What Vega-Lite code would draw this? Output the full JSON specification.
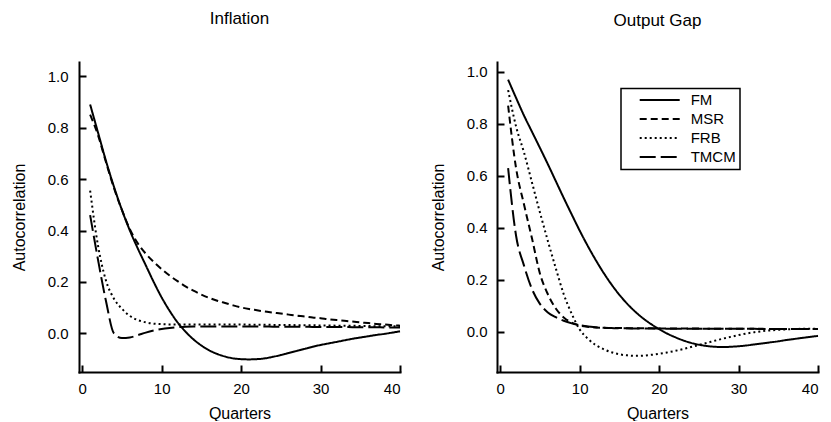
{
  "$schema": "https://vega.github.io/schema/vega-lite/v6.json",
  "background": "white",
  "padding": {"left": 11, "top": 10, "right": 5, "bottom": 0},
  "config": {
    "view": {"stroke": null},
    "font": "Liberation Sans",
    "axis": {
      "grid": false,
      "domainColor": "black",
      "domainWidth": 2,
      "domainCap": "square",
      "tickColor": "black",
      "tickWidth": 2,
      "tickSize": -7,
      "labelFont": "Liberation Sans",
      "labelFontSize": 15,
      "labelColor": "black",
      "titleFont": "Liberation Sans",
      "titleFontSize": 16,
      "titleFontWeight": "normal",
      "titleColor": "black"
    },
    "legend": {"strokeWidth": 1.5},
    "title": {
      "font": "Liberation Sans",
      "fontSize": 17,
      "fontWeight": "normal",
      "color": "black",
      "anchor": "middle",
      "frame": "group",
      "baseline": "alphabetic"
    }
  },
  "data": {
    "values": [
      {"panel": "Inflation", "lag": 1, "FM": 0.89, "MSR": 0.85, "FRB": 0.555, "TMCM": 0.46},
      {"panel": "Inflation", "lag": 2, "FM": 0.78, "MSR": 0.77, "FRB": 0.34, "TMCM": 0.285},
      {"panel": "Inflation", "lag": 3, "FM": 0.67, "MSR": 0.665, "FRB": 0.205, "TMCM": 0.125},
      {"panel": "Inflation", "lag": 4, "FM": 0.57, "MSR": 0.565, "FRB": 0.135, "TMCM": 0.0},
      {"panel": "Inflation", "lag": 5, "FM": 0.48, "MSR": 0.48, "FRB": 0.096, "TMCM": -0.018},
      {"panel": "Inflation", "lag": 6, "FM": 0.40, "MSR": 0.405, "FRB": 0.068, "TMCM": -0.016},
      {"panel": "Inflation", "lag": 7, "FM": 0.33, "MSR": 0.35, "FRB": 0.052, "TMCM": -0.007},
      {"panel": "Inflation", "lag": 8, "FM": 0.265, "MSR": 0.31, "FRB": 0.043, "TMCM": 0.003},
      {"panel": "Inflation", "lag": 9, "FM": 0.2, "MSR": 0.278, "FRB": 0.038, "TMCM": 0.011},
      {"panel": "Inflation", "lag": 10, "FM": 0.14, "MSR": 0.25, "FRB": 0.036, "TMCM": 0.017},
      {"panel": "Inflation", "lag": 11, "FM": 0.088, "MSR": 0.225, "FRB": 0.035, "TMCM": 0.021},
      {"panel": "Inflation", "lag": 12, "FM": 0.043, "MSR": 0.203, "FRB": 0.035, "TMCM": 0.024},
      {"panel": "Inflation", "lag": 13, "FM": 0.007, "MSR": 0.183, "FRB": 0.035, "TMCM": 0.026},
      {"panel": "Inflation", "lag": 14, "FM": -0.023, "MSR": 0.166, "FRB": 0.035, "TMCM": 0.027},
      {"panel": "Inflation", "lag": 15, "FM": -0.047, "MSR": 0.151, "FRB": 0.035, "TMCM": 0.027},
      {"panel": "Inflation", "lag": 16, "FM": -0.066, "MSR": 0.138, "FRB": 0.035, "TMCM": 0.027},
      {"panel": "Inflation", "lag": 17, "FM": -0.08, "MSR": 0.127, "FRB": 0.035, "TMCM": 0.027},
      {"panel": "Inflation", "lag": 18, "FM": -0.09, "MSR": 0.118, "FRB": 0.035, "TMCM": 0.027},
      {"panel": "Inflation", "lag": 19, "FM": -0.097, "MSR": 0.109, "FRB": 0.035, "TMCM": 0.027},
      {"panel": "Inflation", "lag": 20, "FM": -0.1, "MSR": 0.101, "FRB": 0.035, "TMCM": 0.027},
      {"panel": "Inflation", "lag": 21, "FM": -0.101, "MSR": 0.095, "FRB": 0.034, "TMCM": 0.027},
      {"panel": "Inflation", "lag": 22, "FM": -0.1, "MSR": 0.09, "FRB": 0.034, "TMCM": 0.027},
      {"panel": "Inflation", "lag": 23, "FM": -0.097, "MSR": 0.085, "FRB": 0.034, "TMCM": 0.027},
      {"panel": "Inflation", "lag": 24, "FM": -0.091, "MSR": 0.081, "FRB": 0.033, "TMCM": 0.026},
      {"panel": "Inflation", "lag": 25, "FM": -0.084, "MSR": 0.077, "FRB": 0.033, "TMCM": 0.026},
      {"panel": "Inflation", "lag": 26, "FM": -0.076, "MSR": 0.073, "FRB": 0.033, "TMCM": 0.026},
      {"panel": "Inflation", "lag": 27, "FM": -0.068, "MSR": 0.069, "FRB": 0.032, "TMCM": 0.026},
      {"panel": "Inflation", "lag": 28, "FM": -0.06, "MSR": 0.066, "FRB": 0.032, "TMCM": 0.026},
      {"panel": "Inflation", "lag": 29, "FM": -0.052, "MSR": 0.062, "FRB": 0.032, "TMCM": 0.025},
      {"panel": "Inflation", "lag": 30, "FM": -0.045, "MSR": 0.059, "FRB": 0.031, "TMCM": 0.025},
      {"panel": "Inflation", "lag": 31, "FM": -0.039, "MSR": 0.055, "FRB": 0.031, "TMCM": 0.025},
      {"panel": "Inflation", "lag": 32, "FM": -0.033, "MSR": 0.052, "FRB": 0.03, "TMCM": 0.025},
      {"panel": "Inflation", "lag": 33, "FM": -0.027, "MSR": 0.049, "FRB": 0.03, "TMCM": 0.025},
      {"panel": "Inflation", "lag": 34, "FM": -0.021, "MSR": 0.046, "FRB": 0.03, "TMCM": 0.024},
      {"panel": "Inflation", "lag": 35, "FM": -0.016, "MSR": 0.043, "FRB": 0.029, "TMCM": 0.024},
      {"panel": "Inflation", "lag": 36, "FM": -0.011, "MSR": 0.04, "FRB": 0.029, "TMCM": 0.024},
      {"panel": "Inflation", "lag": 37, "FM": -0.006, "MSR": 0.037, "FRB": 0.028, "TMCM": 0.024},
      {"panel": "Inflation", "lag": 38, "FM": -0.002, "MSR": 0.035, "FRB": 0.028, "TMCM": 0.023},
      {"panel": "Inflation", "lag": 39, "FM": 0.003, "MSR": 0.032, "FRB": 0.028, "TMCM": 0.023},
      {"panel": "Inflation", "lag": 40, "FM": 0.008, "MSR": 0.03, "FRB": 0.027, "TMCM": 0.023},
      {"panel": "Output Gap", "lag": 1, "FM": 0.97, "MSR": 0.87, "FRB": 0.93, "TMCM": 0.63},
      {"panel": "Output Gap", "lag": 2, "FM": 0.9, "MSR": 0.63, "FRB": 0.79, "TMCM": 0.37},
      {"panel": "Output Gap", "lag": 3, "FM": 0.832, "MSR": 0.49, "FRB": 0.69, "TMCM": 0.255},
      {"panel": "Output Gap", "lag": 4, "FM": 0.77, "MSR": 0.36, "FRB": 0.575, "TMCM": 0.165},
      {"panel": "Output Gap", "lag": 5, "FM": 0.708, "MSR": 0.225, "FRB": 0.46, "TMCM": 0.108},
      {"panel": "Output Gap", "lag": 6, "FM": 0.645, "MSR": 0.145, "FRB": 0.35, "TMCM": 0.075},
      {"panel": "Output Gap", "lag": 7, "FM": 0.58, "MSR": 0.09, "FRB": 0.245, "TMCM": 0.057},
      {"panel": "Output Gap", "lag": 8, "FM": 0.515, "MSR": 0.056, "FRB": 0.145, "TMCM": 0.043},
      {"panel": "Output Gap", "lag": 9, "FM": 0.452, "MSR": 0.036, "FRB": 0.07, "TMCM": 0.033},
      {"panel": "Output Gap", "lag": 10, "FM": 0.39, "MSR": 0.025, "FRB": 0.01, "TMCM": 0.026},
      {"panel": "Output Gap", "lag": 11, "FM": 0.332, "MSR": 0.02, "FRB": -0.025, "TMCM": 0.021},
      {"panel": "Output Gap", "lag": 12, "FM": 0.278, "MSR": 0.017, "FRB": -0.05, "TMCM": 0.018},
      {"panel": "Output Gap", "lag": 13, "FM": 0.228, "MSR": 0.016, "FRB": -0.066, "TMCM": 0.016},
      {"panel": "Output Gap", "lag": 14, "FM": 0.183, "MSR": 0.015, "FRB": -0.078, "TMCM": 0.015},
      {"panel": "Output Gap", "lag": 15, "FM": 0.143, "MSR": 0.015, "FRB": -0.086, "TMCM": 0.014},
      {"panel": "Output Gap", "lag": 16, "FM": 0.108, "MSR": 0.014, "FRB": -0.09, "TMCM": 0.014},
      {"panel": "Output Gap", "lag": 17, "FM": 0.078, "MSR": 0.014, "FRB": -0.092, "TMCM": 0.013},
      {"panel": "Output Gap", "lag": 18, "FM": 0.052, "MSR": 0.014, "FRB": -0.091, "TMCM": 0.013},
      {"panel": "Output Gap", "lag": 19, "FM": 0.03, "MSR": 0.014, "FRB": -0.088, "TMCM": 0.013},
      {"panel": "Output Gap", "lag": 20, "FM": 0.011, "MSR": 0.013, "FRB": -0.084, "TMCM": 0.013},
      {"panel": "Output Gap", "lag": 21, "FM": -0.006, "MSR": 0.013, "FRB": -0.079, "TMCM": 0.012},
      {"panel": "Output Gap", "lag": 22, "FM": -0.02, "MSR": 0.013, "FRB": -0.073, "TMCM": 0.012},
      {"panel": "Output Gap", "lag": 23, "FM": -0.032, "MSR": 0.013, "FRB": -0.066, "TMCM": 0.012},
      {"panel": "Output Gap", "lag": 24, "FM": -0.042, "MSR": 0.013, "FRB": -0.058, "TMCM": 0.012},
      {"panel": "Output Gap", "lag": 25, "FM": -0.049, "MSR": 0.013, "FRB": -0.05, "TMCM": 0.012},
      {"panel": "Output Gap", "lag": 26, "FM": -0.054, "MSR": 0.012, "FRB": -0.042, "TMCM": 0.012},
      {"panel": "Output Gap", "lag": 27, "FM": -0.057, "MSR": 0.012, "FRB": -0.034, "TMCM": 0.012},
      {"panel": "Output Gap", "lag": 28, "FM": -0.058, "MSR": 0.012, "FRB": -0.026, "TMCM": 0.012},
      {"panel": "Output Gap", "lag": 29, "FM": -0.057, "MSR": 0.012, "FRB": -0.019, "TMCM": 0.012},
      {"panel": "Output Gap", "lag": 30, "FM": -0.055, "MSR": 0.012, "FRB": -0.012, "TMCM": 0.012},
      {"panel": "Output Gap", "lag": 31, "FM": -0.052, "MSR": 0.012, "FRB": -0.006, "TMCM": 0.012},
      {"panel": "Output Gap", "lag": 32, "FM": -0.048, "MSR": 0.012, "FRB": -0.001, "TMCM": 0.012},
      {"panel": "Output Gap", "lag": 33, "FM": -0.044, "MSR": 0.012, "FRB": 0.003, "TMCM": 0.011},
      {"panel": "Output Gap", "lag": 34, "FM": -0.04, "MSR": 0.011, "FRB": 0.006, "TMCM": 0.011},
      {"panel": "Output Gap", "lag": 35, "FM": -0.036, "MSR": 0.011, "FRB": 0.008, "TMCM": 0.011},
      {"panel": "Output Gap", "lag": 36, "FM": -0.031, "MSR": 0.011, "FRB": 0.01, "TMCM": 0.011},
      {"panel": "Output Gap", "lag": 37, "FM": -0.027, "MSR": 0.011, "FRB": 0.011, "TMCM": 0.011},
      {"panel": "Output Gap", "lag": 38, "FM": -0.023, "MSR": 0.011, "FRB": 0.012, "TMCM": 0.011},
      {"panel": "Output Gap", "lag": 39, "FM": -0.019, "MSR": 0.011, "FRB": 0.012, "TMCM": 0.011},
      {"panel": "Output Gap", "lag": 40, "FM": -0.015, "MSR": 0.011, "FRB": 0.012, "TMCM": 0.011}
    ]
  },
  "transform": [
    {"fold": ["FM", "MSR", "FRB", "TMCM"], "as": ["model", "ac"]}
  ],
  "spacing": 26,
  "resolve": {"scale": {"strokeDash": "independent"}, "legend": {"strokeDash": "independent"}},
  "hconcat": [
    {
      "title": {"text": "Inflation", "offset": 34},
      "width": 321,
      "height": 310,
      "transform": [{"filter": "datum.panel === 'Inflation'"}],
      "mark": {"type": "line", "color": "black", "strokeWidth": 2, "interpolate": "monotone", "strokeCap": "butt"},
      "encoding": {
        "x": {
          "field": "lag", "type": "quantitative",
          "scale": {"domain": [-0.4, 40], "nice": false, "zero": false},
          "axis": {"title": "Quarters", "values": [0, 10, 20, 30, 40], "labelPadding": 16, "titlePadding": 9}
        },
        "y": {
          "field": "ac", "type": "quantitative",
          "scale": {"domain": [-0.15, 1.055], "nice": false, "zero": false},
          "axis": {"title": "Autocorrelation", "values": [0, 0.2, 0.4, 0.6, 0.8, 1], "format": ".1f", "labelPadding": 18, "titlePadding": 20}
        },
        "strokeDash": {
          "field": "model", "type": "nominal",
          "scale": {"domain": ["FM", "MSR", "FRB", "TMCM"], "range": [[1, 0], [7, 4], [2, 3], [16, 5]]},
          "legend": null
        }
      }
    },
    {
      "title": {"text": "Output Gap", "offset": 32.5},
      "width": 321,
      "height": 310,
      "transform": [{"filter": "datum.panel === 'Output Gap'"}],
      "mark": {"type": "line", "color": "black", "strokeWidth": 2, "interpolate": "monotone", "strokeCap": "butt"},
      "encoding": {
        "x": {
          "field": "lag", "type": "quantitative",
          "scale": {"domain": [-0.4, 40], "nice": false, "zero": false},
          "axis": {"title": "Quarters", "values": [0, 10, 20, 30, 40], "labelPadding": 16, "titlePadding": 9}
        },
        "y": {
          "field": "ac", "type": "quantitative",
          "scale": {"domain": [-0.154, 1.038], "nice": false, "zero": false},
          "axis": {"title": "Autocorrelation", "values": [0, 0.2, 0.4, 0.6, 0.8, 1], "format": ".1f", "labelPadding": 17, "titlePadding": 20}
        },
        "strokeDash": {
          "field": "model", "type": "nominal",
          "scale": {"domain": ["FM", "MSR", "FRB", "TMCM"], "range": [[1, 0], [7, 4], [2, 3], [16, 5]]},
          "legend": {
            "orient": "none",
            "legendX": 124,
            "legendY": 26.5,
            "title": null,
            "symbolType": "stroke",
            "symbolSize": 1600,
            "symbolStrokeWidth": 2,
            "symbolStrokeColor": "black",
            "symbolOffset": 13.7,
            "clipHeight": 15,
            "labelFont": "Liberation Sans",
            "labelFontSize": 15,
            "labelColor": "black",
            "labelOffset": 10,
            "padding": 4,
            "rowPadding": 3,
            "strokeColor": "black"
          }
        }
      }
    }
  ]
}
